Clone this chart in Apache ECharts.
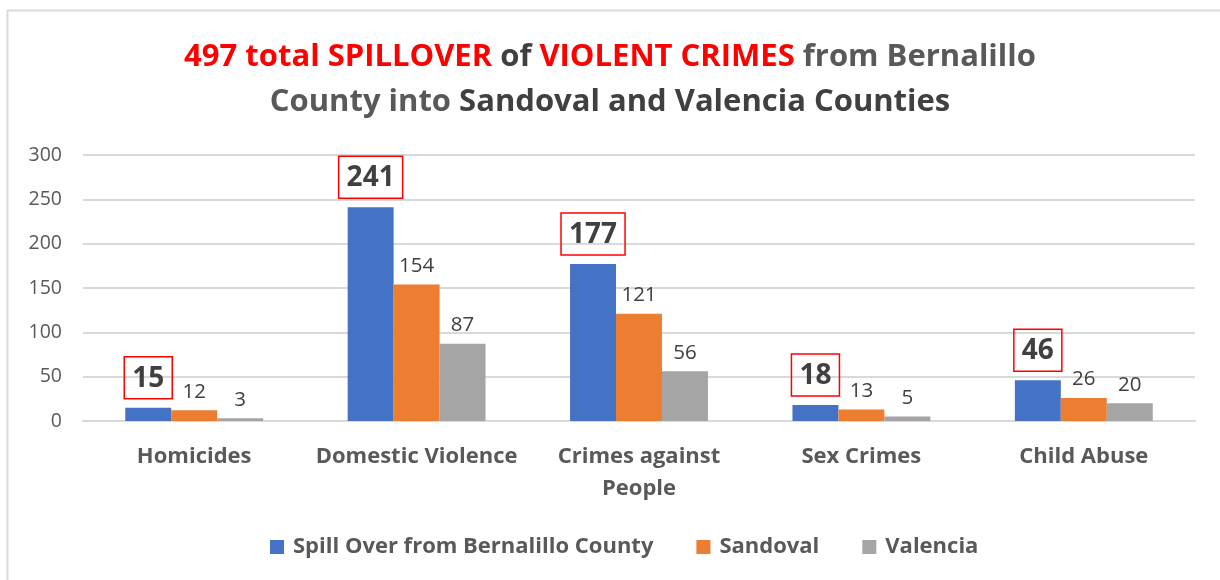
<!DOCTYPE html>
<html>
<head>
<meta charset="utf-8">
<script src="https://cdn.jsdelivr.net/npm/echarts@6/dist/echarts.min.js"></script>
<style>html,body{margin:0;padding:0;background:#fff;}#c{width:1220px;height:580px;}</style>
</head>
<body>
<div id="c"></div>
<script>
const categories = ['Homicides', 'Domestic Violence', 'Crimes against\nPeople', 'Sex Crimes', 'Child Abuse'];
const spillOver = [15, 241, 177, 18, 46];
const sandoval = [12, 154, 121, 13, 26];
const valencia = [3, 87, 56, 5, 20];
const seriesNames = ['Spill Over from Bernalillo County', 'Sandoval', 'Valencia'];
const yTicks = { min: 0, max: 300, interval: 50 };

const FONT = '"Open Sans", sans-serif';
const chart = echarts.init(document.getElementById('c'), null, { renderer: 'canvas' });

const smallLabel = {
  show: true, position: 'top', distance: 8,
  color: '#404040', fontSize: 20.5, fontFamily: FONT
};
const TS = 31;

chart.setOption({
  backgroundColor: '#fff',
  animation: false,
  graphic: [{
    type: 'rect', shape: { x: 7.5, y: 10.5, width: 1230, height: 600 },
    style: { fill: 'none', stroke: '#d9d9d9', lineWidth: 2 }, z: -1
  }],
  title: {
    left: 'center', top: 30,
    text: '{r|497 total SPILLOVER} {d|of} {r|VIOLENT CRIMES} {g|from Bernalillo}\n{g|County into} {d|Sandoval and Valencia Counties}',
    textStyle: {
      fontFamily: FONT, fontSize: TS, fontWeight: 'bold', lineHeight: 45,
      rich: {
        r: { color: '#ff0000', fontSize: TS, fontWeight: 'bold', fontFamily: FONT },
        d: { color: '#404040', fontSize: TS, fontWeight: 'bold', fontFamily: FONT },
        g: { color: '#595959', fontSize: TS, fontWeight: 'bold', fontFamily: FONT }
      }
    }
  },
  legend: {
    top: 531, left: 265,
    itemWidth: 14, itemHeight: 14, itemGap: 43, icon: 'rect',
    textStyle: { fontFamily: FONT, fontSize: 22, fontWeight: 'bold', color: '#595959', padding: [0, 0, 0, 4] },
    data: seriesNames
  },
  grid: { left: 83, right: 25, top: 155, bottom: 159, containLabel: false },
  xAxis: {
    type: 'category', data: categories,
    axisLine: { show: true, lineStyle: { color: '#d9d9d9', width: 2 } },
    axisTick: { show: false },
    axisLabel: { fontFamily: FONT, fontSize: 22, fontWeight: 'bold', color: '#595959', margin: 20, lineHeight: 32, interval: 0 }
  },
  yAxis: {
    type: 'value', min: yTicks.min, max: yTicks.max, interval: yTicks.interval,
    axisLine: { show: false }, axisTick: { show: false },
    splitLine: { lineStyle: { color: '#d9d9d9', width: 2 } },
    axisLabel: { fontFamily: FONT, fontSize: 19.5, color: '#595959', margin: 21 }
  },
  series: [
    {
      name: seriesNames[0], type: 'bar', data: spillOver,
      itemStyle: { color: '#4472c4' }, barGap: '0%', barCategoryGap: '38%',
      label: {
        show: true, position: 'top', distance: 9,
        color: '#404040', fontSize: 28, fontWeight: 'bold', fontFamily: FONT,
        borderColor: '#ff0000', borderWidth: 1.5, padding: [8, 8, 6, 8]
      }
    },
    { name: seriesNames[1], type: 'bar', data: sandoval, itemStyle: { color: '#ed7d31' }, label: smallLabel },
    { name: seriesNames[2], type: 'bar', data: valencia, itemStyle: { color: '#a5a5a5' }, label: smallLabel }
  ]
});
</script>
</body>
</html>
